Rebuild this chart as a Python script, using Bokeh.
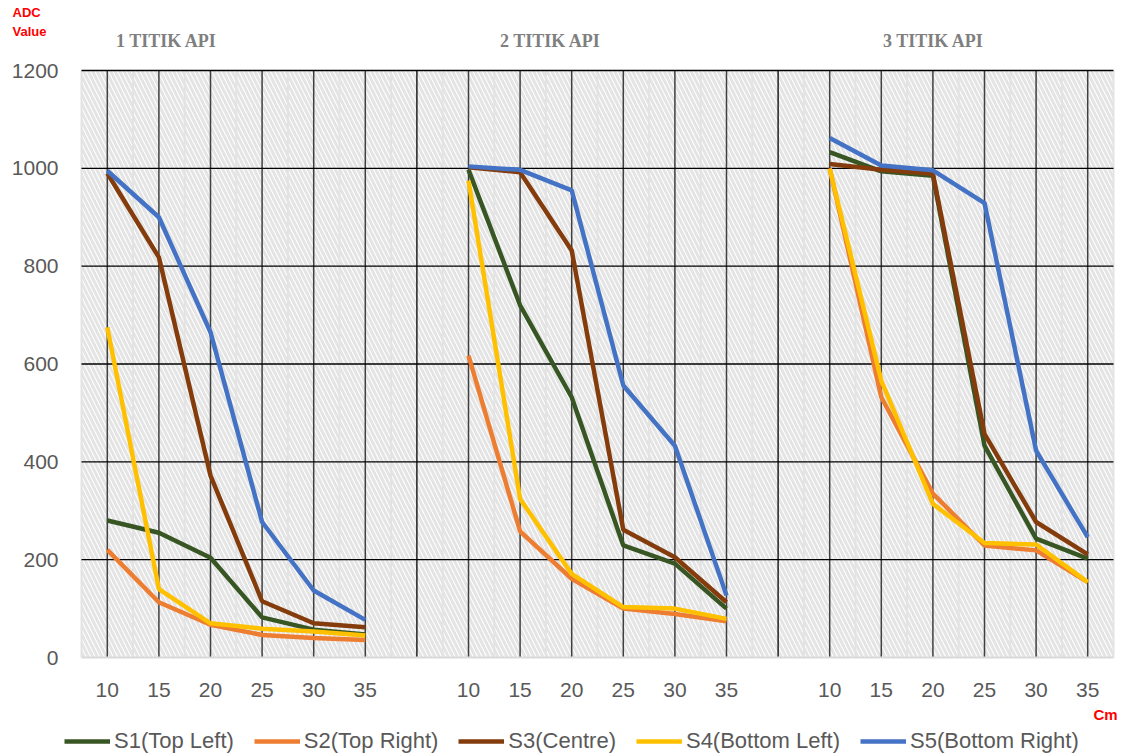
import math
from bokeh.plotting import figure
from bokeh.models import Range1d, BoxAnnotation, Legend, LegendItem
from bokeh.core.properties import value
from bokeh.embed import file_html
from bokeh.resources import INLINE

# ---------------- data ----------------
distances = [10, 15, 20, 25, 30, 35]
groups = ["1 TITIK API", "2 TITIK API", "3 TITIK API"]
series_names = ["S1(Top Left)", "S2(Top Right)", "S3(Centre)", "S4(Bottom Left)", "S5(Bottom Right)"]
colors = ["#375623", "#ED7D31", "#843C0C", "#FFC000", "#4472C4"]

s1 = [[280, 255, 204, 82, 57, 47], [997, 720, 532, 229, 192, 100], [1033, 994, 985, 433, 243, 202]]
s2 = [[220, 113, 67, 46, 40, 36], [617, 258, 161, 100, 89, 74], [1000, 532, 335, 229, 219, 154]]
s3 = [[990, 818, 372, 115, 70, 62], [1002, 992, 832, 261, 205, 113], [1009, 997, 989, 457, 277, 211]]
s4 = [[675, 140, 70, 59, 53, 45], [975, 324, 171, 103, 100, 79], [999, 566, 314, 234, 231, 154]]
s5 = [[995, 900, 665, 277, 137, 77], [1004, 997, 955, 556, 433, 127], [1062, 1006, 996, 929, 423, 246]]
all_series = [s1, s2, s3, s4, s5]

y_ticks = [0, 200, 400, 600, 800, 1000, 1200]
y_max = 1200

# ---------------- category slots ----------------
n_per = len(distances)
slot = n_per + 1                       # one blank category between groups
n_slots = len(groups) * slot - 1        # 20
centers = [i + 0.5 for i in range(n_slots)]
boundaries = list(range(n_slots + 1))
x_labels = []
for i in range(n_slots):
    g, j = divmod(i, slot)
    x_labels.append(str(distances[j]) if j < n_per else "")
cat_x = [c for c, l in zip(centers, x_labels) if l]
gap_x = [c for c, l in zip(centers, x_labels) if not l]

def series_xy(s):
    xs, ys = [], []
    for i in range(n_slots):
        g, j = divmod(i, slot)
        xs.append(centers[i])
        ys.append(s[g][j] if j < n_per else math.nan)
    return xs, ys

# ---------------- canvas geometry ----------------
W, H = 1126, 756
PL, PR, PT, PB = 81, 1113, 70, 657          # chart area in pixels
kx = (PR - PL) / n_slots
ky = (PB - PT) / y_max

def dx(px):
    return (px - PL) / kx

def dy(py):
    return (PB - py) / ky

FONT = "Liberation Sans"

p = figure(width=W, height=H, output_backend="svg", toolbar_location=None,
           x_range=Range1d(dx(0), dx(W)), y_range=Range1d(dy(H), dy(0)),
           x_axis_location=None, y_axis_location=None,
           min_border_left=0, min_border_right=0, min_border_top=0, min_border_bottom=0)
p.outline_line_color = None
p.background_fill_color = "white"
p.grid.visible = False

# hatched plot area
bg = BoxAnnotation(left=0, right=n_slots, bottom=0, top=y_max,
                   fill_color="white", fill_alpha=1.0, line_color=None,
                   hatch_pattern="\\", hatch_color="#e4e4e4", hatch_weight=3,
                   hatch_scale=9, level="image")
p.add_layout(bg)

# minor (slot boundary) gridlines
p.segment(x0=boundaries, y0=[0] * len(boundaries), x1=boundaries, y1=[y_max] * len(boundaries),
          line_color="#e3e3e3", line_width=2)
# category gridlines
p.segment(x0=cat_x, y0=[0] * len(cat_x), x1=cat_x, y1=[y_max] * len(cat_x),
          line_color="#404040", line_width=1.5)
p.segment(x0=gap_x, y0=[0] * len(gap_x), x1=gap_x, y1=[y_max] * len(gap_x),
          line_color="#000000", line_width=1.3)
# value gridlines
yg = y_ticks[1:]
p.segment(x0=[0] * len(yg), y0=yg, x1=[n_slots] * len(yg), y1=yg,
          line_color="#000000", line_width=1.3)
# category axis line
p.segment(x0=[0], y0=[0], x1=[n_slots], y1=[0], line_color="#d9d9d9", line_width=2)

# tick labels
p.text(x=centers, y=[dy(689)] * n_slots, text=x_labels, text_font=value(FONT),
       text_font_size=value("21px"), text_color="#595959",
       text_align="center", text_baseline="middle")
p.text(x=[dx(58)] * len(y_ticks), y=y_ticks, text=[str(v) for v in y_ticks],
       text_font=value(FONT), text_font_size=value("21px"), text_color="#595959",
       text_align="right", text_baseline="middle")

# series
items = []
for name, col, s in zip(series_names, colors, all_series):
    xs, ys = series_xy(s)
    r = p.line(xs, ys, line_color=col, line_width=4.5)
    items.append(LegendItem(label=name, renderers=[r]))

legend = Legend(items=items, orientation="horizontal", location=(64, 2),
                label_text_font=FONT, label_text_font_size="22px", label_text_color="#595959",
                glyph_width=46, glyph_height=22, label_standoff=4, spacing=20,
                padding=0, margin=0, border_line_color=None, background_fill_alpha=0)
p.add_layout(legend)

# group titles
p.text(x=[dx(166), dx(550), dx(933)], y=[dy(40)] * 3, text=groups,
       text_font=value("Liberation Serif"), text_font_style="bold",
       text_font_size=value("18px"), text_color="#7f7f7f",
       text_align="center", text_baseline="middle")

# axis captions
p.text(x=[dx(12), dx(12)], y=[dy(12), dy(31)], text=["ADC", "Value"],
       text_font=value(FONT), text_font_style="bold", text_font_size=value("13px"),
       text_color="#ff0000", text_align="left", text_baseline="middle")
p.text(x=[dx(1093)], y=[dy(714)], text=["Cm"],
       text_font=value(FONT), text_font_style="bold", text_font_size=value("15px"),
       text_color="#ff0000", text_align="left", text_baseline="middle")

open("out.html", "w").write(file_html(p, INLINE))
